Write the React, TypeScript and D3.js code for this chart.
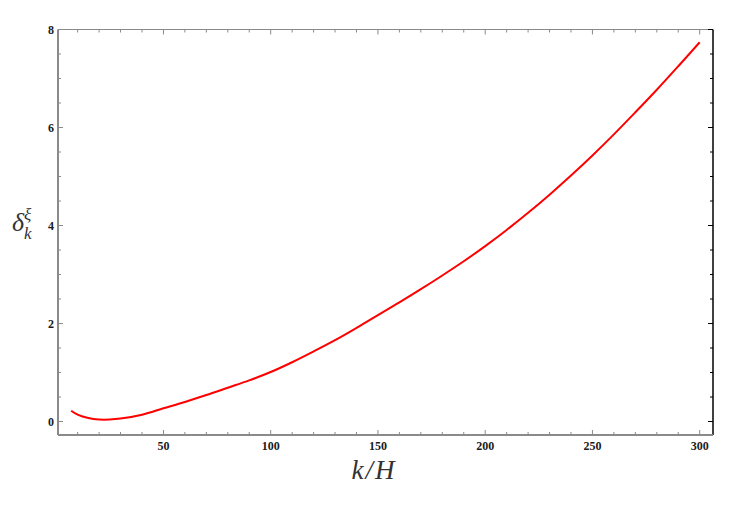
import React from "react";
import * as d3 from "d3";

const kOverH = [7, 10, 15, 20, 25, 30, 40, 50, 60, 70, 80, 90, 100, 110, 120, 130, 140, 150, 160, 170, 180, 190, 200, 210, 220, 230, 240, 250, 260, 270, 280, 290, 300];
const delta = [0.22, 0.14, 0.07, 0.04, 0.04, 0.06, 0.14, 0.27, 0.40, 0.54, 0.69, 0.84, 1.01, 1.21, 1.43, 1.66, 1.91, 2.17, 2.43, 2.70, 2.98, 3.27, 3.58, 3.91, 4.26, 4.63, 5.02, 5.43, 5.86, 6.31, 6.77, 7.25, 7.74];
const xTicks = [50, 100, 150, 200, 250, 300];
const yTicks = [0, 2, 4, 6, 8];

const W = 747, H = 512;
const L = 58, R = 713, T = 29.5, B = 435;

export default function App() {
  const x = d3.scaleLinear().domain([0.85, 306.2]).range([L, R]);
  const y = d3.scaleLinear().domain([-0.275, 8]).range([B, T]);
  const pts = kOverH.map((k, i) => [k, delta[i]] as [number, number]);
  const line = d3.line<[number, number]>().x(d => x(d[0])).y(d => y(d[1])).curve(d3.curveCatmullRom.alpha(0.5));
  const xMinor = d3.range(10, 306, 10).filter(v => v % 50 !== 0);
  const yMinor = d3.range(0.5, 8, 0.5).filter(v => v % 2 !== 0);
  const gray = "#8a8a8a";
  const serif = "'Liberation Serif', 'DejaVu Serif', serif";
  const tickFont = { fontFamily: serif, fontWeight: 700, fontSize: 12, fill: "#1a1a1a" } as const;
  return (
    <svg width={W} height={H} style={{ position: "absolute", left: 0, top: 0, background: "#fff" }}>
      {/* frame */}
      <line x1={L} x2={R} y1={T} y2={T} stroke={gray} strokeWidth={1.2} />
      <line x1={R} x2={R} y1={T} y2={B} stroke="#000" strokeWidth={1.5} />
      <line x1={L} x2={R} y1={B} y2={B} stroke={gray} strokeWidth={2} />
      <line x1={L} x2={L} y1={T} y2={B} stroke={gray} strokeWidth={2} />
      {/* x ticks */}
      {xTicks.map(v => (
        <g key={"xt" + v}>
          <line x1={x(v)} x2={x(v)} y1={B} y2={B - 5} stroke={gray} />
          <line x1={x(v)} x2={x(v)} y1={T} y2={T + 5} stroke={gray} />
          <text x={x(v)} y={B + 15} textAnchor="middle" {...tickFont}>{v}</text>
        </g>
      ))}
      {xMinor.map(v => (
        <g key={"xm" + v}>
          <line x1={x(v)} x2={x(v)} y1={B} y2={B - 3} stroke={gray} />
          <line x1={x(v)} x2={x(v)} y1={T} y2={T + 3} stroke={gray} />
        </g>
      ))}
      {/* y ticks */}
      {yTicks.map(v => (
        <g key={"yt" + v}>
          <line x1={L} x2={L + 5} y1={y(v)} y2={y(v)} stroke={gray} />
          <line x1={R} x2={R - 5} y1={y(v)} y2={y(v)} stroke="#000" />
          <text x={L - 4} y={y(v) + 4.5} textAnchor="end" {...tickFont}>{v}</text>
        </g>
      ))}
      {yMinor.map(v => (
        <g key={"ym" + v}>
          <line x1={L} x2={L + 3} y1={y(v)} y2={y(v)} stroke={gray} />
          <line x1={R} x2={R - 3} y1={y(v)} y2={y(v)} stroke="#000" />
        </g>
      ))}
      {/* curve */}
      <path d={line(pts) || ""} fill="none" stroke="#ff0000" strokeWidth={2} />
      {/* axis labels */}
      <text x={374} y={479} textAnchor="middle" fontFamily={serif} fontStyle="italic" fontSize={27} letterSpacing={2} fill="#333">k/H</text>
      <text x={12} y={231} fontFamily={serif} fontStyle="italic" fontSize={26} fill="#333">δ</text>
      <text x={24} y={220} fontFamily={serif} fontStyle="italic" fontSize={17} fill="#333">ξ</text>
      <text x={24} y={239} fontFamily={serif} fontStyle="italic" fontSize={17} fill="#333">k</text>
    </svg>
  );
}
